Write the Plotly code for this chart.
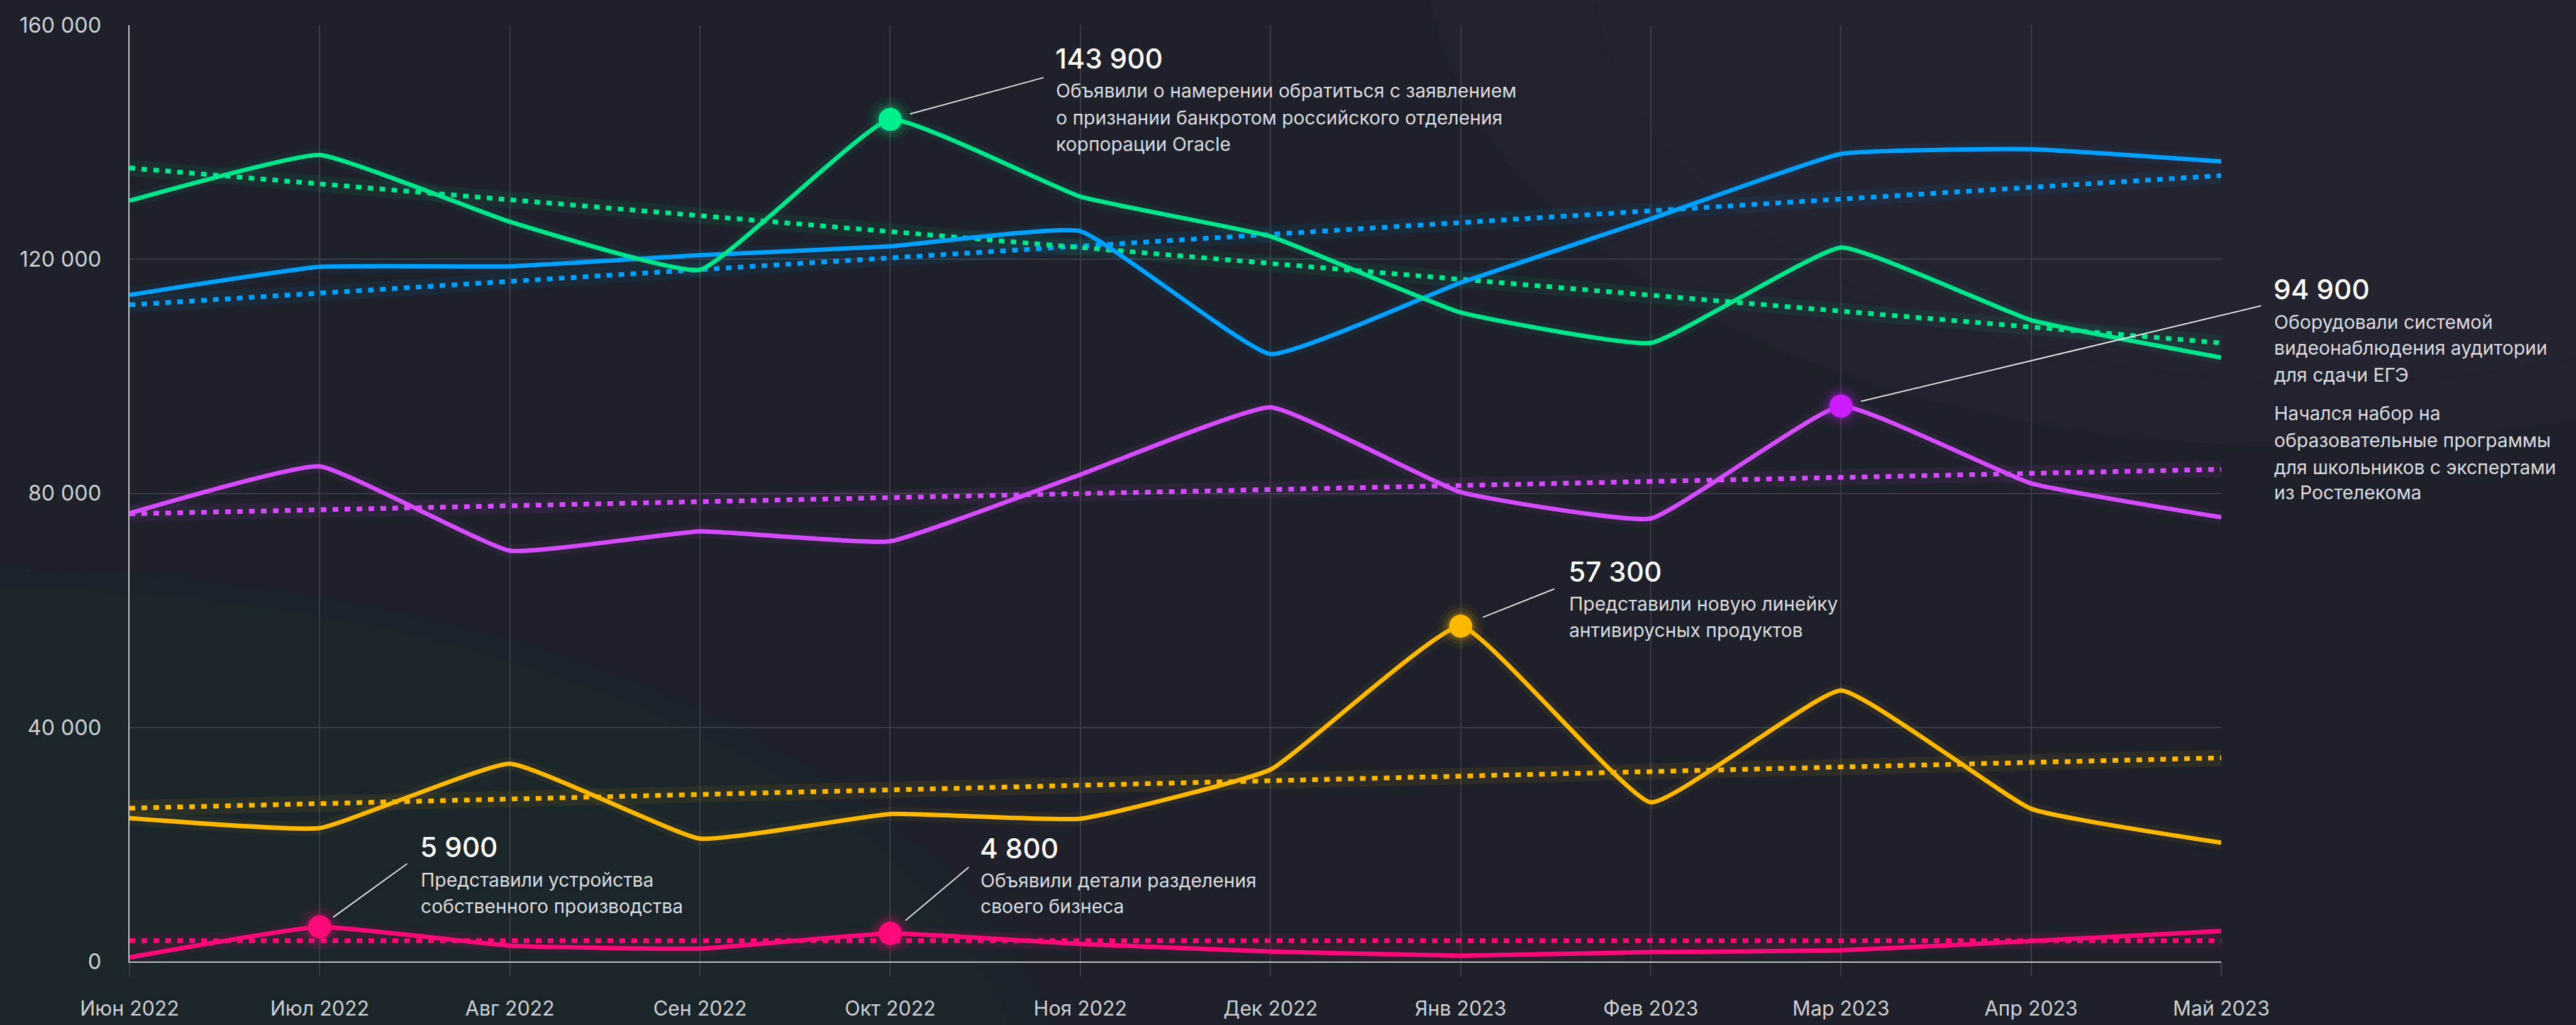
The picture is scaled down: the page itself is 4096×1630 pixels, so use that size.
import math
import plotly.graph_objects as go

# ---------------- data ----------------
months = ["Июн 2022", "Июл 2022", "Авг 2022", "Сен 2022", "Окт 2022", "Ноя 2022",
          "Дек 2022", "Янв 2023", "Фев 2023", "Мар 2023", "Апр 2023", "Май 2023"]

green_values = [130000, 137800, 126400, 118200, 143900, 130700, 123900, 110900, 105700, 122000, 109600, 103200]
blue_values = [113900, 118700, 118800, 120700, 122200, 124800, 103800, 116000, 126900, 138000, 138800, 136700]
purple_values = [76600, 84600, 70200, 73500, 71800, 83200, 94700, 80200, 75700, 94900, 81700, 75900]
yellow_values = [24500, 22800, 33800, 21000, 25200, 24400, 32800, 57300, 27200, 46300, 26100, 20300]
pink_values = [700, 5900, 2700, 2200, 4800, 3000, 1700, 1000, 1600, 1900, 3500, 5200]

# trend lines: value at first month, value at last month
green_trend = [135600, 105700]
blue_trend = [112200, 134300]
purple_trend = [76500, 84100]
yellow_trend = [26200, 34800]
pink_trend = [3550, 3550]

y_tick_values = [0, 40000, 80000, 120000, 160000]
y_tick_labels = ["0", "40 000", "80 000", "120 000", "160 000"]

# callouts: series, month index, number, description lines
callout_series = ["green", "purple", "yellow", "pink", "pink"]
callout_month = [4, 9, 7, 1, 4]
callout_numbers = ["143 900", "94 900", "57 300", "5 900", "4 800"]
callout_texts = [
    ["Объявили о намерении обратиться с заявлением",
     "о признании банкротом российского отделения",
     "корпорации Oracle"],
    ["Оборудовали системой",
     "видеонаблюдения аудитории",
     "для сдачи ЕГЭ",
     "Начался набор на",
     "образовательные программы",
     "для школьников с экспертами",
     "из Ростелекома"],
    ["Представили новую линейку",
     "антивирусных продуктов"],
    ["Представили устройства",
     "собственного производства"],
    ["Объявили детали разделения",
     "своего бизнеса"],
]

# ---------------- styles / layout ----------------
series_values = {"green": green_values, "blue": blue_values, "purple": purple_values,
                 "yellow": yellow_values, "pink": pink_values}
series_trend = {"green": green_trend, "blue": blue_trend, "purple": purple_trend,
                "yellow": yellow_trend, "pink": pink_trend}
line_colors = {"green": "#00e58b", "blue": "#00a0ff", "purple": "#d64cff",
               "yellow": "#ffb800", "pink": "#ff0a78"}
marker_colors = {"green": "#00ee8c", "blue": "#00a0ff", "purple": "#cc1cff",
                 "yellow": "#ffb800", "pink": "#ff0a78"}
order = ["pink", "yellow", "purple", "blue", "green"]

# callout layout offsets (output pixels, relative to marker; +y = up)
number_offset = [(261, 97), (686, 186), (169, 87), (158, 127), (141, 135)]
line_offsets = [
    [(262, 46), (262, 3), (262, -39)],
    [(687, 134), (687, 93), (687, 50), (687, -11), (687, -54), (687, -97), (687, -137)],
    [(170, 36), (170, -6)],
    [(159, 75), (159, 33)],
    [(142, 84), (142, 43)],
]
leader_offsets = [((27, 18), (246, 67)), ((29, 15), (670, 160)), ((33, 19), (151, 60)),
                  ((16, 21), (141, 102)), ((17, 27), (127, 107))]

FONT = "Inter"
GRID = "#3a3d47"
AXIS = "#c6c7cb"
BG = "#1e212a"

fig = go.Figure()

ends = [months[0], months[-1]]
# glows
for key in order:
    fig.add_trace(go.Scatter(x=ends, y=series_trend[key], mode="lines",
                             line=dict(color=line_colors[key], width=26), opacity=0.07,
                             hoverinfo="skip", showlegend=False, cliponaxis=False))
    fig.add_trace(go.Scatter(x=months, y=series_values[key], mode="lines",
                             line=dict(color=line_colors[key], width=22, shape="spline", smoothing=0.35),
                             opacity=0.05, hoverinfo="skip", showlegend=False, cliponaxis=False))
# trends
for key in order:
    fig.add_trace(go.Scatter(x=ends, y=series_trend[key], mode="lines",
                             line=dict(color=line_colors[key], width=7.5, dash="9px,10px"),
                             hoverinfo="skip", showlegend=False, cliponaxis=False))
# main lines
for key in order:
    fig.add_trace(go.Scatter(x=months, y=series_values[key], mode="lines",
                             line=dict(color=line_colors[key], width=7, shape="spline", smoothing=0.35),
                             showlegend=False, cliponaxis=False, name=key))

annotations = []
for i, key in enumerate(callout_series):
    m = months[callout_month[i]]
    v = series_values[key][callout_month[i]]
    for size, op in [(72, 0.05), (58, 0.09), (46, 0.16)]:
        fig.add_trace(go.Scatter(x=[m], y=[v], mode="markers",
                                 marker=dict(size=size, color=marker_colors[key], opacity=op),
                                 hoverinfo="skip", showlegend=False, cliponaxis=False))
    fig.add_trace(go.Scatter(x=[m], y=[v], mode="markers",
                             marker=dict(size=37, color=marker_colors[key]),
                             showlegend=False, cliponaxis=False))
    (lx0, ly0), (lx1, ly1) = leader_offsets[i]
    annotations.append(dict(x=m, y=v, xref="x", yref="y", text=" ", showarrow=True,
                            arrowhead=0, arrowwidth=2, arrowcolor="#e8e8ea",
                            axref="pixel", ayref="pixel", ax=lx1, ay=-ly1,
                            standoff=math.hypot(lx0, ly0), font=dict(size=2)))
    nx, ny = number_offset[i]
    annotations.append(dict(x=m, y=v, xref="x", yref="y", text=callout_numbers[i], showarrow=False,
                            xanchor="left", yanchor="middle", xshift=nx, yshift=ny,
                            font=dict(family=FONT, size=44, color="#ffffff", weight=500)))
    for (tx, ty), line in zip(line_offsets[i], callout_texts[i]):
        annotations.append(dict(x=m, y=v, xref="x", yref="y", text=line, showarrow=False,
                                xanchor="left", yanchor="middle", xshift=tx, yshift=ty,
                                font=dict(family=FONT, size=30, color="#dcdce0")))

# background tints
bg_shapes = [
    dict(type="circle", xref="paper", yref="paper", x0=-0.60, x1=0.45, y0=-0.78, y1=0.42,
         fillcolor="rgba(20,80,60,0.05)", line=dict(width=0), layer="below"),
    dict(type="circle", xref="paper", yref="paper", x0=-0.57, x1=0.43, y0=-0.75, y1=0.40,
         fillcolor="rgba(20,80,60,0.07)", line=dict(width=0), layer="below"),
    dict(type="circle", xref="paper", yref="paper", x0=0.62, x1=1.45, y0=0.55, y1=1.60,
         fillcolor="rgba(90,60,120,0.05)", line=dict(width=0), layer="below"),
    dict(type="circle", xref="paper", yref="paper", x0=0.70, x1=1.40, y0=0.62, y1=1.50,
         fillcolor="rgba(90,60,120,0.05)", line=dict(width=0), layer="below"),
]

fig.update_layout(
    width=4096, height=1630,
    margin=dict(l=206, r=564, t=40, b=101),
    paper_bgcolor=BG, plot_bgcolor="rgba(0,0,0,0)",
    showlegend=False,
    annotations=annotations,
    shapes=bg_shapes,
    xaxis=dict(type="category", categoryorder="array", categoryarray=months, range=[0, 11],
               showgrid=True, gridcolor=GRID, gridwidth=1.5,
               ticks="outside", ticklen=22, tickcolor=GRID, tickwidth=1.5,
               showline=True, linecolor=AXIS, linewidth=2,
               tickfont=dict(family=FONT, size=32, color="#cfd0d4"),
               ticklabelstandoff=24, zeroline=False, automargin=False),
    yaxis=dict(range=[0, 160000], tickvals=y_tick_values, ticktext=y_tick_labels,
               showgrid=True, gridcolor=GRID, gridwidth=1.5,
               showline=True, linecolor=AXIS, linewidth=2, ticks="",
               tickfont=dict(family=FONT, size=34, color="#cfd0d4"),
               ticklabelstandoff=36, zeroline=False, automargin=False),
)

fig.write_html("out.html", config={"displayModeBar": False},
               post_script="document.body.style.margin='0';document.body.style.background='" + BG + "';")
